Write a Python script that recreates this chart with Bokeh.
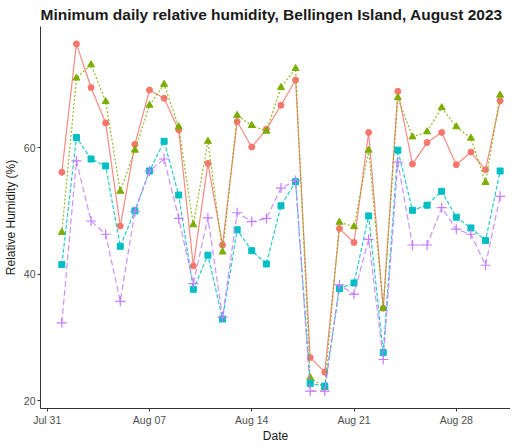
from datetime import datetime, timedelta
from bokeh.plotting import figure
from bokeh.models import FixedTicker, DatetimeTickFormatter, Range1d
from bokeh.embed import file_html
from bokeh.resources import INLINE

dates = [datetime(2023, 8, d) for d in range(1, 32)]

red = [56.1, 76.4, 69.5, 63.9, 47.6, 60.5, 69.1, 67.8, 62.8, 41.3, 57.5, 44.6, 64.1, 60.1, 62.9, 66.7,
       70.7, 26.8, 24.5, 47.2, 45.0, 62.4, 34.6, 68.9, 57.4, 60.8, 62.4, 57.3, 59.3, 56.5, 67.4]
green = [46.6, 71.0, 73.1, 67.3, 53.1, 59.6, 66.7, 70.0, 63.3, 47.8, 61.0, 43.5, 65.1, 63.5, 62.6, 69.5,
         72.5, 23.6, 22.1, 48.2, 47.5, 59.6, 34.6, 67.9, 61.7, 62.5, 66.3, 63.3, 61.5, 54.5, 68.3]
cyan = [41.5, 61.6, 58.2, 57.1, 44.4, 50.0, 56.3, 61.0, 52.5, 37.6, 43.0, 32.9, 47.0, 43.7, 41.6, 50.8,
        54.6, 22.7, 22.3, 37.7, 38.6, 49.2, 27.6, 59.6, 50.1, 50.9, 53.1, 49.0, 47.3, 45.3, 56.3]
purple = [32.3, 57.9, 48.4, 46.3, 35.7, 49.9, 56.3, 58.2, 48.8, 38.5, 48.9, 33.2, 49.7, 48.3, 48.8, 53.6,
          54.8, 21.5, 21.5, 38.3, 36.8, 45.5, 26.5, 57.7, 44.6, 44.6, 50.5, 47.1, 46.3, 41.4, 52.3]

tick_dates = [datetime(2023, 7, 31), datetime(2023, 8, 7), datetime(2023, 8, 14),
              datetime(2023, 8, 21), datetime(2023, 8, 28)]
y_ticks = [20, 40, 60]

epoch = datetime(1970, 1, 1)
def ms(d):
    return (d - epoch).total_seconds() * 1000.0

x_start = datetime(2023, 7, 31) - timedelta(days=0.46)
x_end = datetime(2023, 7, 31) + timedelta(days=31.71)

p = figure(frame_width=470, frame_height=382, x_axis_type="datetime",
           x_range=Range1d(ms(x_start), ms(x_end)), y_range=Range1d(18.75, 79.15),
           output_backend="svg", toolbar_location=None,
           title="Minimum daily relative humidity, Bellingen Island, August 2023")
p.min_border_left = 32
p.min_border_right = 0
p.min_border_top = 0
p.min_border_bottom = 0
p.outline_line_color = None
p.background_fill_color = "white"
p.border_fill_color = "white"
p.xgrid.grid_line_color = None
p.ygrid.grid_line_color = None

p.title.text_font = "Liberation Sans"
p.title.text_font_size = "15.5px"
p.title.text_font_style = "bold"
p.title.text_color = "#1a1a1a"
p.title.align = "left"
p.title.standoff = 7

for ax in (p.xaxis[0], p.yaxis[0]):
    ax.axis_line_color = "#333333"
    ax.axis_line_width = 1
    ax.major_tick_line_color = "#333333"
    ax.major_tick_out = 3
    ax.major_tick_in = 0
    ax.minor_tick_line_color = None
    ax.major_label_text_font = "Liberation Sans"
    ax.major_label_text_font_size = "10.5px"
    ax.major_label_text_color = "#4D4D4D"
    ax.major_label_standoff = 2
    ax.axis_label_text_font = "Liberation Sans"
    ax.axis_label_text_font_size = "12px"
    ax.axis_label_text_font_style = "normal"
    ax.axis_label_text_color = "#1a1a1a"
    ax.axis_label_standoff = 3

p.xaxis[0].axis_label_standoff = 0
p.xaxis.axis_label = "Date"
p.yaxis.axis_label = "Relative Humidity (%)"
p.xaxis.ticker = FixedTicker(ticks=[ms(d) for d in tick_dates])
p.xaxis.formatter = DatetimeTickFormatter(days="%b %d", months="%b %d", hours="%b %d")
p.yaxis.ticker = FixedTicker(ticks=y_ticks)

series = [
    (red, "#F8766D", "solid", "circle", 6),
    (green, "#7CAE00", "2 2", "triangle", 7),
    (cyan, "#00BFC4", "4 2", "square", 6),
    (purple, "#C77CFF", "6 3", "cross", 10),
]
for vals, col, dash, marker, size in series:
    p.line(dates, vals, line_color=col, line_width=1.2, line_dash=dash, line_alpha=0.85)
    if marker == "cross":
        p.scatter(dates, vals, marker=marker, size=size, line_color=col, line_width=1.2)
    else:
        p.scatter(dates, vals, marker=marker, size=size, fill_color=col, line_color=col)

open("out.html", "w").write(file_html(p, INLINE))
